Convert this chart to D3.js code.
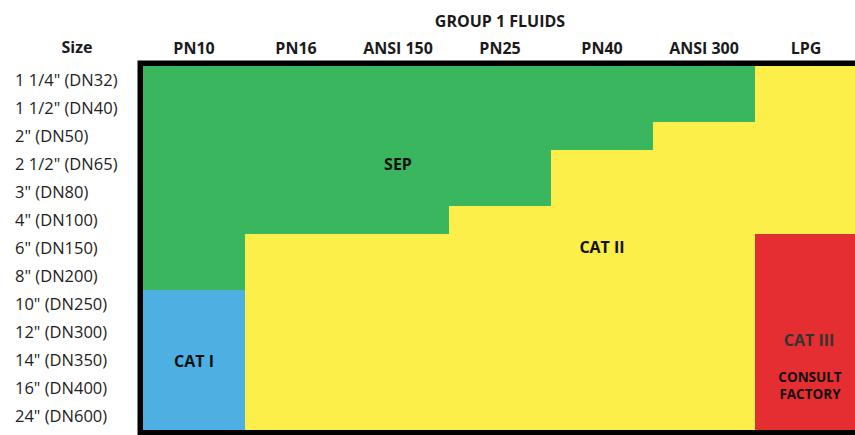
<!DOCTYPE html>
<html>
<head>
<meta charset="utf-8">
<script src="https://cdn.jsdelivr.net/npm/d3@7"></script>
<style>
  html, body { margin: 0; padding: 0; background: #fff; }
  svg { display: block; }
</style>
</head>
<body>
<svg id="chart" width="855" height="435"></svg>
<script>
// ---- data ----
const title = "GROUP 1 FLUIDS";
const sizeHeader = "Size";
const columns = ["PN10", "PN16", "ANSI 150", "PN25", "PN40", "ANSI 300", "LPG"];
const sizes = ['1 1/4" (DN32)', '1 1/2" (DN40)', '2" (DN50)', '2 1/2" (DN65)', '3" (DN80)',
  '4" (DN100)', '6" (DN150)', '8" (DN200)', '10" (DN250)', '12" (DN300)',
  '14" (DN350)', '16" (DN400)', '24" (DN600)'];
// category per size (row) and pressure class (column)
const categoryGrid = [
  ["SEP", "SEP", "SEP", "SEP", "SEP", "SEP", "CAT II"],
  ["SEP", "SEP", "SEP", "SEP", "SEP", "SEP", "CAT II"],
  ["SEP", "SEP", "SEP", "SEP", "SEP", "CAT II", "CAT II"],
  ["SEP", "SEP", "SEP", "SEP", "CAT II", "CAT II", "CAT II"],
  ["SEP", "SEP", "SEP", "SEP", "CAT II", "CAT II", "CAT II"],
  ["SEP", "SEP", "SEP", "CAT II", "CAT II", "CAT II", "CAT II"],
  ["SEP", "CAT II", "CAT II", "CAT II", "CAT II", "CAT II", "CAT III"],
  ["SEP", "CAT II", "CAT II", "CAT II", "CAT II", "CAT II", "CAT III"],
  ["CAT I", "CAT II", "CAT II", "CAT II", "CAT II", "CAT II", "CAT III"],
  ["CAT I", "CAT II", "CAT II", "CAT II", "CAT II", "CAT II", "CAT III"],
  ["CAT I", "CAT II", "CAT II", "CAT II", "CAT II", "CAT II", "CAT III"],
  ["CAT I", "CAT II", "CAT II", "CAT II", "CAT II", "CAT II", "CAT III"],
  ["CAT I", "CAT II", "CAT II", "CAT II", "CAT II", "CAT II", "CAT III"]
];
const categories = ["SEP", "CAT I", "CAT II", "CAT III"];
const categoryColors = ["#3ab65f", "#4eafe2", "#fcef49", "#e52e31"];
// region labels anchored to a column / size cell
const regionLabels = [
  { lines: ["SEP"], col: "ANSI 150", row: '2 1/2" (DN65)' },
  { lines: ["CAT II"], col: "PN40", row: '6" (DN150)' },
  { lines: ["CAT I"], col: "PN10", row: '14" (DN350)' },
  { lines: ["CAT III"], col: "LPG", row: '12" (DN300)' },
  { lines: ["CONSULT", "FACTORY"], col: "LPG", row: '14" (DN350)' }
];

// ---- layout ----
const svg = d3.select("#chart");
const gLeft = 143, gRight = 857, gTop = 66, gBottom = 430;
const x = d3.scaleBand().domain(columns).range([gLeft, gRight]).padding(0);
const y = d3.scaleBand().domain(sizes).range([gTop, gBottom]).padding(0);
const color = d3.scaleOrdinal().domain(categories).range(categoryColors);
const fontFamily = "'Open Sans', 'DejaVu Sans', sans-serif";
// label styling / nudges (layout only)
const labelStyle = {
  "SEP": { size: 16, fill: "#111", dx: 0, dy: 0 },
  "CAT II": { size: 16, fill: "#111", dx: 0, dy: -1 },
  "CAT I": { size: 16, fill: "#111", dx: 0, dy: 1 },
  "CAT III": { size: 16, fill: "#333", dx: 3, dy: 8 },
  "CONSULT": { size: 13.5, fill: "#111", dx: 4, dy: 25.5, lh: 16.5 }
};

// cells
const cells = [];
categoryGrid.forEach((row, ri) => row.forEach((cat, ci) => cells.push({ size: sizes[ri], col: columns[ci], cat })));
svg.append("g").selectAll("rect").data(cells).join("rect")
  .attr("x", d => x(d.col))
  .attr("y", d => y(d.size))
  .attr("width", x.bandwidth() + 0.5)
  .attr("height", y.bandwidth() + 0.5)
  .attr("fill", d => color(d.cat))
  .attr("shape-rendering", "crispEdges");

// border
svg.append("rect")
  .attr("x", gLeft - 2.75).attr("y", gTop - 2.75)
  .attr("width", gRight - gLeft + 20).attr("height", gBottom - gTop + 5.5)
  .attr("fill", "none").attr("stroke", "#000").attr("stroke-width", 5.5);

// title
svg.append("text")
  .attr("x", (gLeft + gRight) / 2).attr("y", 27)
  .attr("text-anchor", "middle")
  .attr("font-family", fontFamily).attr("font-weight", 700).attr("font-size", 16)
  .attr("fill", "#1a1a1a").text(title);

// column header axis
const xAxis = svg.append("g").attr("transform", `translate(0,${gTop})`)
  .call(d3.axisTop(x).tickSize(0).tickPadding(12));
xAxis.select(".domain").remove();
xAxis.selectAll("text")
  .attr("font-family", fontFamily).attr("font-weight", 700).attr("font-size", 16)
  .attr("fill", "#1a1a1a");

// size header
svg.append("text")
  .attr("x", 77).attr("y", 53)
  .attr("text-anchor", "middle")
  .attr("font-family", fontFamily).attr("font-weight", 700).attr("font-size", 16)
  .attr("fill", "#1a1a1a").text(sizeHeader);

// row labels
svg.append("g").selectAll("text").data(sizes).join("text")
  .attr("x", 15)
  .attr("y", d => y(d) + y.bandwidth() / 2)
  .attr("dy", "0.36em")
  .attr("font-family", fontFamily).attr("font-size", 16.5)
  .attr("fill", "#222")
  .text(d => d);

// region labels
regionLabels.forEach(l => {
  const st = labelStyle[l.lines[0]];
  const cx = x(l.col) + x.bandwidth() / 2 + st.dx;
  const cy = y(l.row) + y.bandwidth() / 2 + st.dy;
  const lh = st.lh || st.size * 1.2;
  l.lines.forEach((line, i) => {
    svg.append("text")
      .attr("text-anchor", "middle")
      .attr("font-family", fontFamily).attr("font-weight", 700).attr("font-size", st.size)
      .attr("fill", st.fill)
      .attr("x", cx)
      .attr("y", cy + (i - (l.lines.length - 1) / 2) * lh)
      .attr("dy", "0.36em")
      .text(line);
  });
});
</script>
</body>
</html>
